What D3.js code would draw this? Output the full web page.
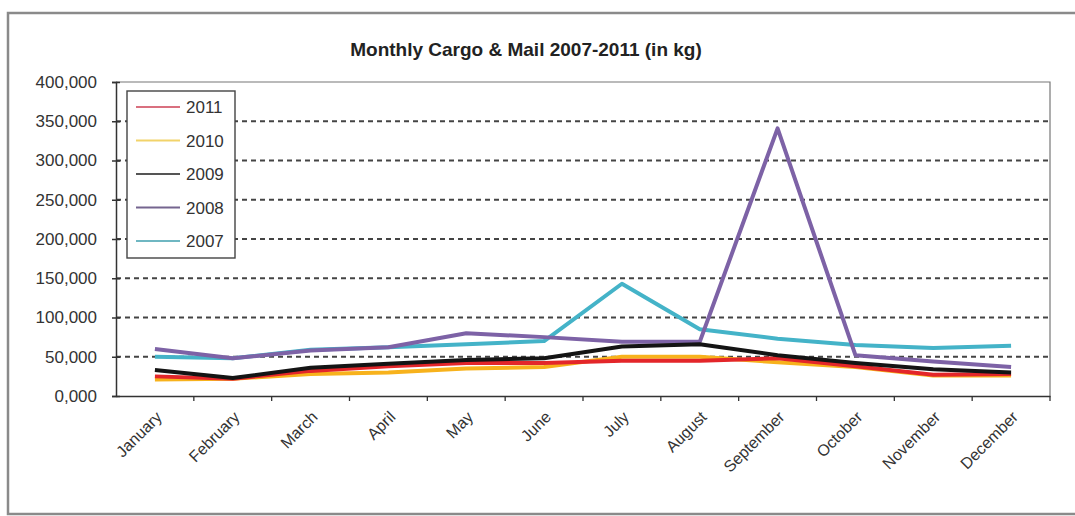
<!DOCTYPE html>
<html>
<head>
<meta charset="utf-8">
<script src="https://cdn.jsdelivr.net/npm/d3@7"></script>
<style>
  html, body { margin: 0; padding: 0; background: #fff; }
  svg { display: block; font-family: "Liberation Sans", Arial, sans-serif; }
</style>
</head>
<body>
<svg id="chart" width="1075" height="516"></svg>
<script>
// Monthly cargo & mail, kg
const months = ["January","February","March","April","May","June","July","August","September","October","November","December"];
const years = ["2011","2010","2009","2008","2007"];
const cargo2011 = [25000, 22000, 32000, 38000, 42000, 42000, 45000, 45000, 48000, 38000, 27000, 28000];
const cargo2010 = [21000, 22000, 28000, 30000, 35000, 37000, 50000, 50000, 43000, 37000, 26000, 26000];
const cargo2009 = [33000, 23000, 36000, 41000, 46000, 48000, 63000, 66000, 52000, 42000, 34000, 30000];
const cargo2008 = [60000, 48000, 58000, 62000, 80000, 75000, 69000, 69000, 341000, 52000, 44000, 37000];
const cargo2007 = [50000, 48000, 59000, 62000, 66000, 70000, 143000, 85000, 73000, 65000, 61000, 64000];
const yTicks = [0, 50000, 100000, 150000, 200000, 250000, 300000, 350000, 400000];

const seriesValues = { "2011": cargo2011, "2010": cargo2010, "2009": cargo2009, "2008": cargo2008, "2007": cargo2007 };
const colors = { "2011": "#e3262a", "2010": "#f7b21c", "2009": "#141414", "2008": "#7d62a6", "2007": "#44b3c8" };
const legendColors = { "2011": "#d9707f", "2010": "#f2d36a", "2009": "#555", "2008": "#75658f", "2007": "#6fb7c2" };
// draw order: back to front
const drawOrder = ["2007", "2008", "2010", "2011", "2009"];

const svg = d3.select("#chart");
const plotLeft = 116, plotRight = 1050, plotTop = 82, plotBottom = 396;

// outer frame
svg.append("rect")
  .attr("x", 8).attr("y", 13).attr("width", 1080).attr("height", 501)
  .attr("fill", "none").attr("stroke", "#8a8a8a").attr("stroke-width", 2.5);

// title
svg.append("text")
  .attr("x", 526).attr("y", 56)
  .attr("text-anchor", "middle")
  .attr("font-size", 19).attr("font-weight", "bold").attr("fill", "#222")
  .text("Monthly Cargo & Mail 2007-2011 (in kg)");

const x = d3.scaleBand().domain(months).range([plotLeft, plotRight]);
const y = d3.scaleLinear().domain([0, 400000]).range([plotBottom, plotTop]);

// dashed gridlines
svg.append("g").selectAll("line")
  .data(yTicks.filter(t => t > 0 && t < 400000))
  .join("line")
  .attr("x1", plotLeft).attr("x2", plotRight)
  .attr("y1", d => y(d)).attr("y2", d => y(d))
  .attr("stroke", "#444").attr("stroke-width", 1.8)
  .attr("stroke-dasharray", "5,4");

// plot border (top and right)
svg.append("path")
  .attr("d", `M${plotLeft},${y(400000)}H${plotRight}V${plotBottom}`)
  .attr("fill", "none").attr("stroke", "#777").attr("stroke-width", 1.2);

// y axis
const fmt = d => d === 0 ? "0,000" : d3.format(",")(d);
const yAxis = svg.append("g")
  .attr("transform", `translate(${plotLeft},0)`)
  .call(d3.axisLeft(y).tickValues(yTicks).tickFormat(fmt).tickSize(4).tickPadding(15));
yAxis.select(".domain").attr("stroke", "#333").attr("stroke-width", 1.5);
yAxis.selectAll(".tick line").attr("stroke", "#333").attr("stroke-width", 1.5).attr("x2", 4).attr("x1", -4);
yAxis.selectAll("text").attr("font-size", 17).attr("fill", "#333")
  .attr("font-family", "'Liberation Sans', Arial, sans-serif");

// x axis
const xAxis = svg.append("g")
  .attr("transform", `translate(0,${plotBottom})`)
  .call(d3.axisBottom(x).tickSize(0).tickFormat(""));
xAxis.select(".domain").attr("stroke", "#333").attr("stroke-width", 1.5);
// category boundary ticks
svg.append("g").selectAll("line")
  .data(months.slice(1).concat(["end"]))
  .join("line")
  .attr("x1", (d, i) => plotLeft + x.step() * (i + 1))
  .attr("x2", (d, i) => plotLeft + x.step() * (i + 1))
  .attr("y1", plotBottom).attr("y2", plotBottom + 5)
  .attr("stroke", "#333").attr("stroke-width", 1.3);

// rotated month labels
svg.append("g").selectAll("text")
  .data(months)
  .join("text")
  .attr("transform", d => `translate(${x(d) + x.bandwidth() / 2 + 8},${plotBottom + 22}) rotate(-45)`)
  .attr("text-anchor", "end")
  .attr("font-size", 16).attr("fill", "#333")
  .text(d => d);

// series lines
const line = d3.line()
  .x((d, i) => x(months[i]) + x.bandwidth() / 2)
  .y(d => y(d));

svg.append("g").selectAll("path")
  .data(drawOrder)
  .join("path")
  .attr("d", k => line(seriesValues[k]))
  .attr("fill", "none")
  .attr("stroke", k => colors[k])
  .attr("stroke-width", 4)
  .attr("stroke-linejoin", "round");

// legend
const lg = svg.append("g");
lg.append("rect")
  .attr("x", 127).attr("y", 91).attr("width", 108).attr("height", 167)
  .attr("fill", "#fff").attr("stroke", "#444").attr("stroke-width", 1.4);
const items = lg.selectAll("g.item")
  .data(years)
  .join("g")
  .attr("class", "item")
  .attr("transform", (d, i) => `translate(0,${107 + i * 33.5})`);
items.append("line")
  .attr("x1", 136).attr("x2", 180)
  .attr("stroke", d => legendColors[d]).attr("stroke-width", 2);
items.append("text")
  .attr("x", 186).attr("y", 6)
  .attr("font-size", 17).attr("fill", "#333")
  .text(d => d);
</script>
</body>
</html>
